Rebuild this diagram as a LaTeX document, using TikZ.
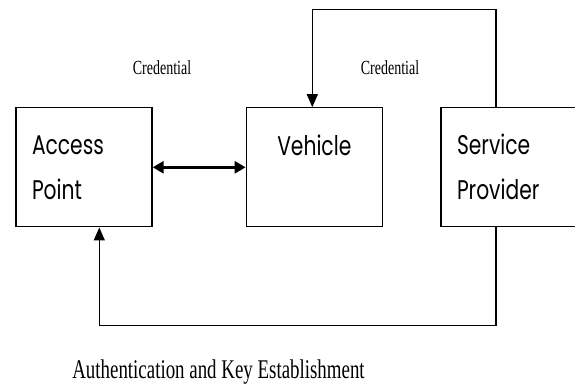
\documentclass[tikz,border=0pt]{standalone}
\usepackage{fontspec}
\setmainfont{Liberation Serif}[FakeStretch=0.7]
\newfontfamily\boxfont{Poppins}[FakeStretch=0.75]
\usepackage{tikz}
\usetikzlibrary{arrows.meta}

\tikzset{
    party/.style = {draw, line width=1.3pt, minimum width=136pt, minimum height=119pt,
        inner xsep=16pt, text width=104pt, font=\boxfont\fontsize{27}{45}\selectfont},
    msg/.style = {font=\fontsize{20}{24}\selectfont},
    flow/.style = {line width=1.3pt, -{Triangle[length=13pt,width=11pt]}},
    swap/.style = {line width=2.6pt, {Triangle[length=11pt,width=12pt]}-{Triangle[length=11pt,width=12pt]}}
}

\begin{document}
\begin{tikzpicture}[x=1pt, y=-1pt]
    \useasboundingbox (0,0) rectangle (575,384);
    \clip (0,0) rectangle (575,384);
    \node[party, align=left] (ap) at (84,167.3) {Access\\Point};
    \node[party, align=center] (veh) at (314.3,167.3) {Vehicle\\\mbox{}};
    \node[party, align=left] (sp) at (509,167.3) {Service\\Provider};

    \node[msg] (cred1) at (162,68) {Credential};
    \node[msg] (cred2) at (390,68) {Credential};
    \node[msg, font=\fontsize{27}{30}\selectfont, anchor=base] (ake) at (218.5,378) {Authentication and Key Establishment};

    \coordinate (tr) at (496,9.3);
    \coordinate (tl) at (312.3,9.3);
    \coordinate (br) at (496,325.3);
    \coordinate (bl) at (99.3,325.3);

    \draw[swap] (ap.east) -- (veh.west);
    \draw[flow] (sp.north -| tr) -- (tr) -- (tl) -- (tl |- veh.north);
    \draw[flow] (sp.south -| br) -- (br) -- (bl) -- (bl |- ap.south);
\end{tikzpicture}
\end{document}
